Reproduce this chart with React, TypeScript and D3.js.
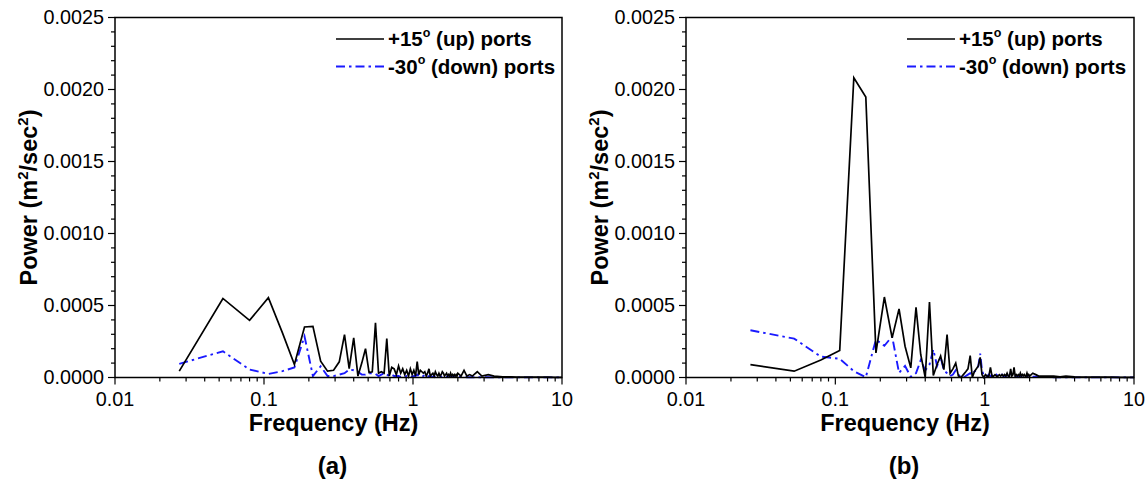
import React from "react";
import * as d3 from "d3";

// Frequency bins (Hz), shared by both panels
const freq: number[] = [
  0.027, 0.053, 0.080, 0.107, 0.133, 0.160, 0.187, 0.213, 0.240, 0.267,
  0.293, 0.320, 0.347, 0.373, 0.400, 0.427, 0.453, 0.480, 0.507, 0.533,
  0.560, 0.587, 0.613, 0.640, 0.667, 0.693, 0.720, 0.747, 0.773, 0.800,
  0.827, 0.853, 0.880, 0.907, 0.933, 0.960, 0.987, 1.013, 1.040, 1.067,
  1.093, 1.120, 1.147, 1.173, 1.200, 1.227, 1.253, 1.280, 1.307, 1.333,
  1.360, 1.387, 1.413, 1.440, 1.467, 1.493, 1.520, 1.547, 1.573, 1.600,
  1.627, 1.653, 1.680, 1.707, 1.733, 1.760, 1.787, 1.813, 1.840, 1.867,
  1.893, 1.920, 1.947, 1.973, 2.000,
  2.1, 2.2, 2.3, 2.4, 2.5, 2.7, 2.9, 3.2, 3.5, 4.0, 4.5, 5.0, 6.0, 7.0, 8.0, 9.0, 10.0,
];

// Power values in units of 1e-5 m^2/sec^2
const UNIT = 1e-5;

const upA: number[] = [
  4.4, 54.9, 39.7, 55.4, 31, 9, 35.1, 35.5, 11.3, 4.4,
  5, 10.9, 29.8, 6.2, 27.5, 1, 10, 20, 3.5, 4,
  37.9, 3, 4, 3, 27, 1, 7, 6, 2, 8,
  3, 6, 2, 5, 1, 6, 2, 5, 1, 11,
  2, 5, 4, 3, 4, 1, 3, 6, 1, 2,
  3, 1, 4, 2, 1, 3, 1, 2, 4, 3,
  1, 2, 3, 1, 2, 1, 3, 1, 2, 1,
  2, 1, 2, 1, 3,
  1, 5, 1, 2, 1, 4, 1, 2, 1, 0.5, 0.5, 0.3, 0.3, 0.2, 0.2, 0.1, 0.1,
];

const downA: number[] = [
  9.5, 18.2, 5.5, 2.5, 4.4, 7, 28.6, 1, 7.8, 1,
  1, 2, 3, 5.5, 5, 4, 2, 2, 3, 3,
  2.5, 1, 2, 3, 2, 1, 2, 1, 1, 1,
  0.5, 1, 0.5, 1, 0.5, 1, 0.5, 1, 1, 2,
  1, 1, 0.5, 1, 2, 1, 0.5, 1, 0.5, 0.5,
  0.5, 1, 0.5, 0.5, 0.5, 0.5, 0.3, 0.5, 0.3, 0.3,
  0.3, 0.3, 0.5, 0.3, 0.3, 0.3, 0.3, 0.3, 0.3, 0.3,
  0.3, 0.3, 0.3, 0.3, 0.3,
  0.3, 0.3, 0.2, 0.2, 0.2, 0.2, 0.2, 0.2, 0.1, 0.1, 0.1, 0.1, 0.1, 0.1, 0.1, 0.1, 0.1,
];

const upB: number[] = [
  9, 4.4, 12.2, 18.7, 208.2, 194.8, 17.1, 55.9, 27.5, 47.6,
  21.7, 6.7, 48.7, 16, 0, 52.4, 1.4, 9, 15, 5.5,
  29.8, 3, 6, 10, 1, 0, 2, 4, 6, 15.2,
  0, 4, 6, 8, 14, 2, 0, 2, 1, 1,
  7, 1, 1, 2, 1, 1, 2, 1, 2, 1,
  2, 1, 3, 1, 1, 6, 1, 2, 7, 1,
  2, 1, 2, 1, 3, 1, 2, 1, 2, 1,
  1, 3, 1, 2, 1,
  3, 2, 1, 1, 1, 1, 1, 0.5, 1, 0.5, 0.3, 0.3, 0.2, 0.2, 0.1, 0.1, 0.1,
];

const downB: number[] = [
  32.8, 27, 14.5, 13, 4.4, 0.2, 26.3, 22, 28.6, 3.2,
  8, 0.5, 3, 12, 5, 9, 19.4, 8, 14.3, 5,
  3, 1, 2, 5, 2, 0.5, 0, 1, 2, 3,
  2, 4, 5, 8, 16.6, 5, 1, 0.5, 1, 2,
  1, 1, 2, 1, 2, 1, 1, 1, 2, 1,
  1, 1, 2, 1, 1, 3, 1, 1, 1, 1,
  1, 0.5, 1, 0.5, 1, 0.5, 0.5, 1, 0.5, 0.5,
  0.5, 0.5, 0.5, 0.5, 0.5,
  0.5, 0.5, 0.3, 0.3, 0.3, 0.3, 0.2, 0.2, 0.2, 0.1, 0.1, 0.1, 0.1, 0.1, 0.1, 0.1, 0.1,
];

const yTicks: number[] = [0, 0.0005, 0.001, 0.0015, 0.002, 0.0025];
const xTicks: number[] = [0.01, 0.1, 1, 10];
const xTickLabels: string[] = ["0.01", "0.1", "1", "10"];
const legendLabels: string[] = ["+15", "-30"];
const legendRest: string[] = [" (up) ports", " (down) ports"];
const panelLabels: string[] = ["(a)", "(b)"];

const FONT = "'Liberation Sans', Arial, Helvetica, sans-serif";
const BLUE = "#1a1aff";

type PanelProps = { x0: number; x1: number; up: number[]; down: number[]; label: string };

function Panel({ x0, x1, up, down, label }: PanelProps) {
  const y0 = 17.5;
  const y1 = 377.5;
  const x = d3.scaleLog().domain([0.01, 10]).range([x0, x1]);
  const y = d3.scaleLinear().domain([0, 0.0025]).range([y1, y0]);

  const line = d3
    .line<number>()
    .x((_, i) => x(freq[i]))
    .y((v) => y(v * UNIT));

  const minorY: number[] = d3.range(0, 26).map((i) => i * 0.0001);
  const minorX: number[] = [];
  [0.01, 0.1, 1].forEach((dec) => {
    for (let m = 2; m <= 9; m++) minorX.push(dec * m);
  });
  const cx = (x0 + x1) / 2 - 5;

  return (
    <g>
      {/* data */}
      <path d={line(down) || ""} fill="none" stroke={BLUE} strokeWidth={1.9} strokeDasharray="9,4,2.5,4" />
      <path d={line(up) || ""} fill="none" stroke="#000" strokeWidth={1.7} strokeLinejoin="miter" />

      {/* frame */}
      <rect x={x0} y={y0} width={x1 - x0} height={y1 - y0} fill="none" stroke="#000" strokeWidth={1.5} />

      {/* y ticks */}
      {minorY.map((v, i) => (
        <line key={"my" + i} x1={x0 - (i % 5 === 0 ? 7 : 4)} x2={x0} y1={y(v)} y2={y(v)} stroke="#000" strokeWidth={1.2} />
      ))}
      {yTicks.map((v, i) => (
        <text key={"yt" + i} x={x0 - 11} y={y(v)} dy="0.35em" textAnchor="end" fontFamily={FONT} fontSize={19.8}>
          {d3.format(".4f")(v)}
        </text>
      ))}

      {/* x ticks */}
      {minorX.map((v, i) => (
        <line key={"mx" + i} x1={x(v)} x2={x(v)} y1={y1} y2={y1 + 4} stroke="#000" strokeWidth={1.2} />
      ))}
      {xTicks.map((v, i) => (
        <g key={"xt" + i}>
          <line x1={x(v)} x2={x(v)} y1={y1} y2={y1 + 7} stroke="#000" strokeWidth={1.2} />
          <text x={x(v)} y={y1 + 28} textAnchor="middle" fontFamily={FONT} fontSize={19.8}>
            {xTickLabels[i]}
          </text>
        </g>
      ))}

      {/* axis titles */}
      <text x={cx} y={431} textAnchor="middle" fontFamily={FONT} fontSize={23.5} fontWeight="bold">
        Frequency (Hz)
      </text>
      <text x={cx - 1} y={474} textAnchor="middle" fontFamily={FONT} fontSize={24} fontWeight="bold">
        {label}
      </text>
      <text
        transform={`translate(${x0 - 78},${(y0 + y1) / 2}) rotate(-90)`}
        textAnchor="middle"
        fontFamily={FONT}
        fontSize={23.5}
        fontWeight="bold"
      >
        Power (m
        <tspan fontSize={15} dy={-9.5}>2</tspan>
        <tspan dy={9.5}>/sec</tspan>
        <tspan fontSize={15} dy={-9.5}>2</tspan>
        <tspan dy={9.5}>)</tspan>
      </text>

      {/* legend */}
      {legendLabels.map((lab, i) => {
        const ly = 39 + i * 27.5;
        return (
          <g key={"lg" + i}>
            <line
              x1={x0 + 221}
              x2={x0 + 269}
              y1={ly}
              y2={ly}
              stroke={i === 0 ? "#000" : BLUE}
              strokeWidth={i === 0 ? 1.7 : 1.9}
              strokeDasharray={i === 0 ? undefined : "9,4,2.5,4"}
            />
            <text x={x0 + 273} y={ly + 7} fontFamily={FONT} fontSize={20.5} fontWeight="bold">
              {lab}
              <tspan fontSize={12.5} dy={-9.5}>o</tspan>
              <tspan dy={9.5}>{legendRest[i]}</tspan>
            </text>
          </g>
        );
      })}
    </g>
  );
}

export default function App() {
  return (
    <svg
      width={1147}
      height={479}
      style={{ position: "absolute", left: 0, top: 0, background: "#fff" }}
    >
      <rect width={1147} height={479} fill="#fff" />
      <Panel x0={115} x1={562} up={upA} down={downA} label={panelLabels[0]} />
      <Panel x0={686} x1={1134} up={upB} down={downB} label={panelLabels[1]} />
    </svg>
  );
}
